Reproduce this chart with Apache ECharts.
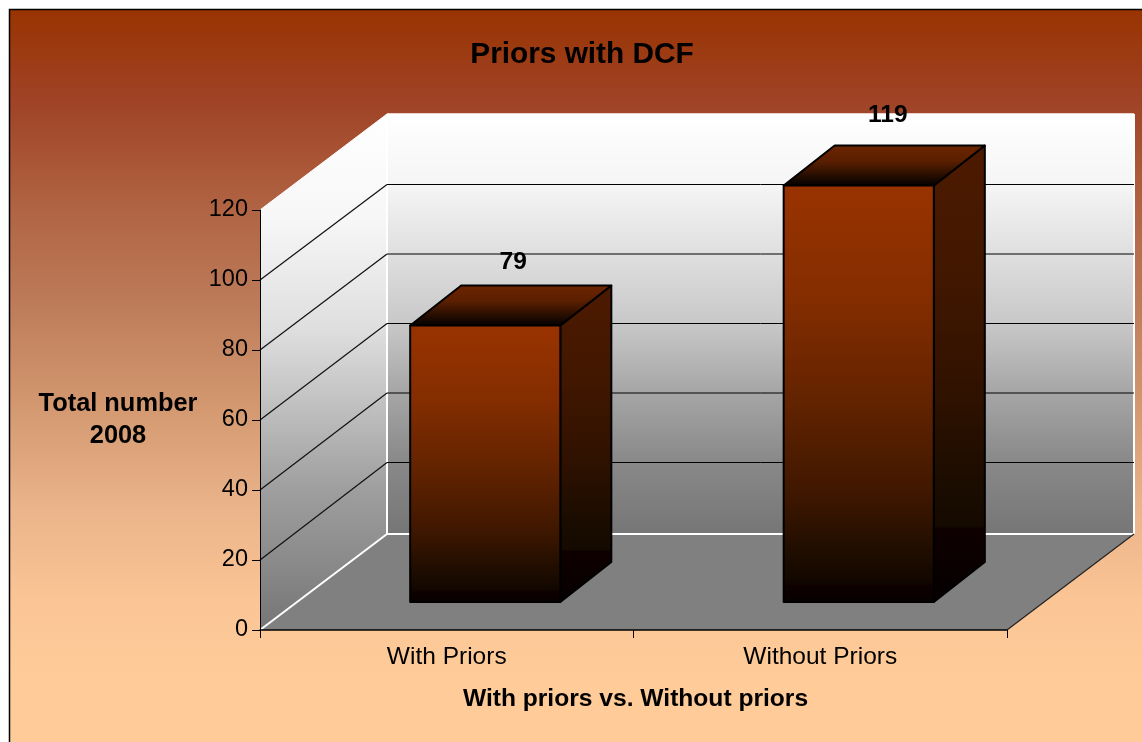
<!DOCTYPE html>
<html><head><meta charset="utf-8">
<style>html,body{margin:0;padding:0;background:#fff}#c{width:1142px;height:742px}</style>
<script src="https://cdn.jsdelivr.net/npm/echarts@6/dist/echarts.min.js"></script>
</head><body><div id="c"></div>
<script>
const categories = ['With Priors', 'Without Priors'];
const totals = [79, 119];
const gridValues = [20, 40, 60, 80, 100];
const titleText = 'Priors with DCF';
const xTitle = 'With priors vs. Without priors';
const yTitle = 'Total number\n2008';

const FONT = '"Liberation Sans", Arial, sans-serif';
const DX = 127, DY = -96;           // wall depth
const BAR_OFF = [37, -28];          // bar front plane offset from the axis plane
const BAR_D = [51, -40];            // bar depth
const BAR_W = 0.402;                // share of band
const LABEL_LIFT = [63, 70];        // value label distance above each bar's front top

function vGrad(stops){return {type:'linear',x:0,y:0,x2:0,y2:1,colorStops:stops.map(s=>({offset:s[0],color:s[1]}))};}
const poly = (points, style, z2) => ({type:'polygon', shape:{points}, style, z2: z2||0, silent:true});
const line = (a, b, stroke, w, z2) => ({type:'line', shape:{x1:a[0],y1:a[1],x2:b[0],y2:b[1]}, style:{stroke, lineWidth:w||1}, z2:z2||0, silent:true});

const backGrad = vGrad([[0,'#ffffff'],[0.167,'#f5f5f5'],[0.333,'#dfdfdf'],[0.5,'#c8c8c8'],[0.667,'#a5a5a5'],[0.833,'#888888'],[1,'#767676']]);
const leftGrad = vGrad([[0,'#ffffff'],[0.2,'#f7f7f7'],[0.42,'#dedede'],[0.59,'#bbbbbb'],[0.73,'#9e9e9e'],[0.87,'#8a8a8a'],[1,'#757575']]);

function renderFrame(params, api){
  const c = params.coordSys, L=c.x, R=c.x+c.width, T=c.y, B=c.y+c.height;
  return {type:'group', children:[
    poly([[L+DX,T+DY],[R+DX,T+DY],[R+DX,B+DY],[L+DX,B+DY]], {fill:backGrad}),
    poly([[L,T],[L+DX,T+DY],[L+DX,B+DY],[L,B]], {fill:leftGrad}),
    poly([[L,B],[L+DX,B+DY],[R+DX,B+DY],[R,B]], {fill:'#808080'}),
    line([L+DX,T+DY],[L+DX,B+DY],'#fff',2,3),
    line([R+DX,T+DY],[R+DX,B+DY],'#fff',2,3),
    line([L+DX,T+DY],[R+DX,T+DY],'#fff',1.5,3),
    line([L+DX,B+DY],[R+DX,B+DY],'#fff',2,3),
    line([L,B],[L+DX,B+DY],'#fff',2,3),
    line([R,B],[R+DX,B+DY],'#222',1.2,3),
    line([L,T],[L+DX,T+DY],'#fff',1,3)
  ]};
}
function renderGrid(params, api){
  const c = params.coordSys, L=c.x, R=c.x+c.width;
  const v = api.value(0);
  const y = api.coord([0, v])[1];
  const back = Math.floor((y + DY - 1.5 + 0.02*v)*2)/2;
  return {type:'group', children:[
    line([L,y],[L+DX,back],'#111',1.2,1),
    line([L+DX,back],[R+DX,back],'#000',1,1)
  ]};
}
function renderBar(params, api){
  const idx = api.value(0), v = api.value(1);
  const top = api.coord([idx, v]), base = api.coord([idx, 0]);
  const w = api.size([1,0])[0]*BAR_W;
  const x0 = top[0]+BAR_OFF[0]-w/2+1.5, x1 = x0+w;
  const yT = top[1]+BAR_OFF[1], yB = base[1]+BAR_OFF[1];
  const dx=BAR_D[0], dy=BAR_D[1];
  const edge = {stroke:'#000', lineWidth:2, lineJoin:'round'};
  return {type:'group', children:[
    poly([[x1,yT],[x1+dx,yT+dy],[x1+dx,yB+dy],[x1,yB]],
      Object.assign({fill:vGrad([[0,'#4d1a00'],[0.3,'#411700'],[0.56,'#2e1100'],[0.75,'#1a0c00'],[0.832,'#150a00'],[0.838,'#0f0000'],[1,'#050000']])},edge),4),
    poly([[x0,yT],[x0+dx,yT+dy],[x1+dx,yT+dy],[x1,yT]],
      Object.assign({fill:vGrad([[0,'#6e2500'],[0.4,'#5a1f00'],[1,'#000000']])},edge),4),
    poly([[x0,yT],[x1,yT],[x1,yB],[x0,yB]],
      Object.assign({fill:vGrad([[0,'#993300'],[0.27,'#842d00'],[0.52,'#622300'],[0.74,'#3f1700'],[0.88,'#1f0d00'],[0.95,'#120700'],[0.96,'#0e0000'],[1,'#060000']])},edge),5),
    {type:'text', style:{text:String(v), x:(x0+x1)/2+28+idx, y:yT-LABEL_LIFT[idx], align:'center', verticalAlign:'middle',
      font:'bold 24.5px '+FONT, fill:'#000'}, z2:6, silent:true}
  ]};
}

const chart = echarts.init(document.getElementById('c'), null, {renderer:'canvas'});
chart.setOption({
  animation:false,
  backgroundColor:'#ffffff',
  graphic:[{type:'rect', z:-10, silent:true, shape:{x:9.5,y:9.5,width:1140,height:740},
    style:{stroke:'#000',lineWidth:1.5,fill:vGrad([[0,'#993300'],[0.12,'#9f4225'],[0.27,'#b06443'],[0.39,'#bc7a58'],[0.53,'#d2976f'],[0.67,'#eab38a'],[0.8,'#fbc595'],[0.91,'#ffcc99'],[1,'#ffcc99']])}}],
  title:{text:titleText,left:577,top:50,textAlign:'center',textVerticalAlign:'middle',
    textStyle:{fontFamily:FONT,fontSize:29.8,fontWeight:'bold',color:'#000'}},
  grid:{left:260,top:210,width:747,height:420,containLabel:false},
  xAxis:{type:'category',data:categories,z:8,boundaryGap:true,
    axisLine:{show:true,lineStyle:{color:'#000',width:1.5}},
    axisTick:{show:true,alignWithLabel:false,length:8,lineStyle:{color:'#000'}},
    axisLabel:{fontFamily:FONT,fontSize:24.5,color:'#000',margin:15},
    name:xTitle,nameLocation:'middle',nameGap:57,
    nameTextStyle:{fontFamily:FONT,fontSize:24.6,fontWeight:'bold',color:'#000',padding:[0,0,0,4]}},
  yAxis:{type:'value',min:0,max:120,interval:20,z:8,
    splitLine:{show:false},
    axisLine:{show:true,lineStyle:{color:'#000',width:1}},
    axisTick:{show:true,length:8,lineStyle:{color:'#000'}},
    axisLabel:{fontFamily:FONT,fontSize:23.5,color:'#000',margin:12,padding:[4,0,0,0]},
    name:yTitle,nameLocation:'middle',nameGap:142,nameRotate:0,
    nameTextStyle:{fontFamily:FONT,fontSize:25.4,fontWeight:'bold',color:'#000',align:'center',lineHeight:32}},
  series:[
    {type:'custom',z:1,coordinateSystem:'cartesian2d',data:[0],renderItem:renderFrame,silent:true},
    {type:'custom',z:2,coordinateSystem:'cartesian2d',data:gridValues.map(v=>[v]),renderItem:renderGrid,silent:true},
    {type:'custom',z:3,coordinateSystem:'cartesian2d',data:totals.map((v,i)=>[i,v]),encode:{x:0,y:1},renderItem:renderBar,silent:true}
  ]
});
</script></body></html>
